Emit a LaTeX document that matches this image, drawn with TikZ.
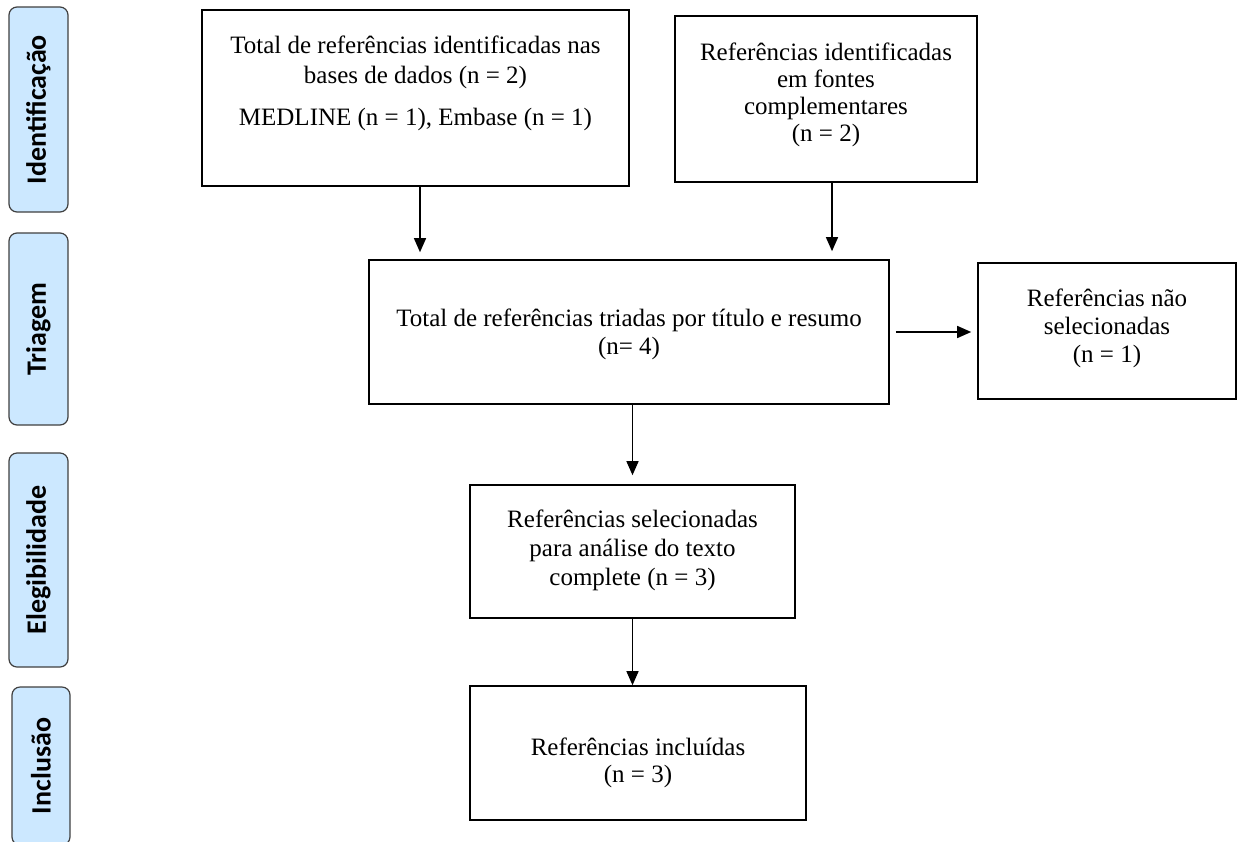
\documentclass[tikz,border=0pt]{standalone}
\usepackage{fontspec}
\setmainfont{Liberation Serif}
\newfontfamily\phasefont{Carlito}
\usetikzlibrary{arrows.meta}
\definecolor{phasefill}{RGB}{204,232,255}
\definecolor{phaseline}{RGB}{64,64,64}
\tikzset{
  box/.style={draw,line width=0.8pt,inner sep=0pt},
  boxtext/.style={align=center,inner sep=0pt},
  phase/.style={draw=phaseline,fill=phasefill,line width=0.6pt,rounded corners=4pt,
    inner sep=0pt,rotate=90,font=\phasefont\bfseries\fontsize{14}{16}\selectfont},
  arr/.style={-{Triangle[width=6pt,length=7pt]},line width=0.7pt}
}
\begin{document}
\begin{tikzpicture}[x=0.5pt,y=-0.5pt]
\clip (0,0) rectangle (1240,841);
\fill[white] (0,0) rectangle (1240,841);
\node[phase,minimum width=102.5pt,minimum height=29.5pt] (fase1) at (38.5,109.5) {Identificação};
\node[phase,minimum width=96pt,minimum height=29.5pt] (fase2) at (38.5,329) {Triagem};
\node[phase,minimum width=107pt,minimum height=29.5pt] (fase3) at (38.5,560) {Elegibilidade};
\node[phase,minimum width=79pt,minimum height=29pt] (fase4) at (41,766) {Inclusão};
\node[box,minimum width=213.5pt,minimum height=88pt] (bases) at (415.5,98) {};
\node[boxtext,font=\fontsize{12.5}{15}\selectfont] (basestxt) at (415.5,83)
  {Total de referências identificadas nas\\bases de dados (n = 2)\\[6pt]MEDLINE (n = 1), Embase (n = 1)};
\node[box,minimum width=151pt,minimum height=83pt] (fontes) at (826,99) {};
\node[boxtext,font=\fontsize{12.5}{13.5}\selectfont] (fontestxt) at (826,95)
  {Referências identificadas\\em fontes\\complementares\\(n = 2)};
\node[box,minimum width=260pt,minimum height=72pt] (triadas) at (629,332) {};
\node[boxtext,font=\fontsize{12.5}{14}\selectfont] (triadastxt) at (629,334)
  {Total de referências triadas por título e resumo\\(n= 4)};
\node[box,minimum width=129pt,minimum height=68pt] (naosel) at (1107,331) {};
\node[boxtext,font=\fontsize{12.5}{14}\selectfont] (naoseltxt) at (1107,328)
  {Referências não\\selecionadas\\(n = 1)};
\node[box,minimum width=162.5pt,minimum height=66.5pt] (selec) at (632.5,551.5) {};
\node[boxtext,font=\fontsize{12.5}{14.5}\selectfont] (selectxt) at (632.5,550)
  {Referências selecionadas\\para análise do texto\\complete (n = 3)};
\node[box,minimum width=168pt,minimum height=67pt] (incl) at (638,753) {};
\node[boxtext,font=\fontsize{12.5}{13.5}\selectfont] (incltxt) at (638,763)
  {Referências incluídas\\(n = 3)};
\draw[arr,shorten >=3.5pt] ([xshift=2.25pt]bases.south) -- ([xshift=2.25pt]bases.south |- triadas.north);
\draw[arr,shorten >=4pt] ([xshift=3pt]fontes.south) -- ([xshift=3pt]fontes.south |- triadas.north);
\draw[arr,shorten <=3pt,shorten >=3pt] (triadas.east) -- (triadas.east -| naosel.west);
\draw[arr,shorten >=4.5pt] (selec.north |- triadas.south) -- (selec.north);
\draw[arr] (selec.south) -- (selec.south |- incl.north);
\end{tikzpicture}
\end{document}
